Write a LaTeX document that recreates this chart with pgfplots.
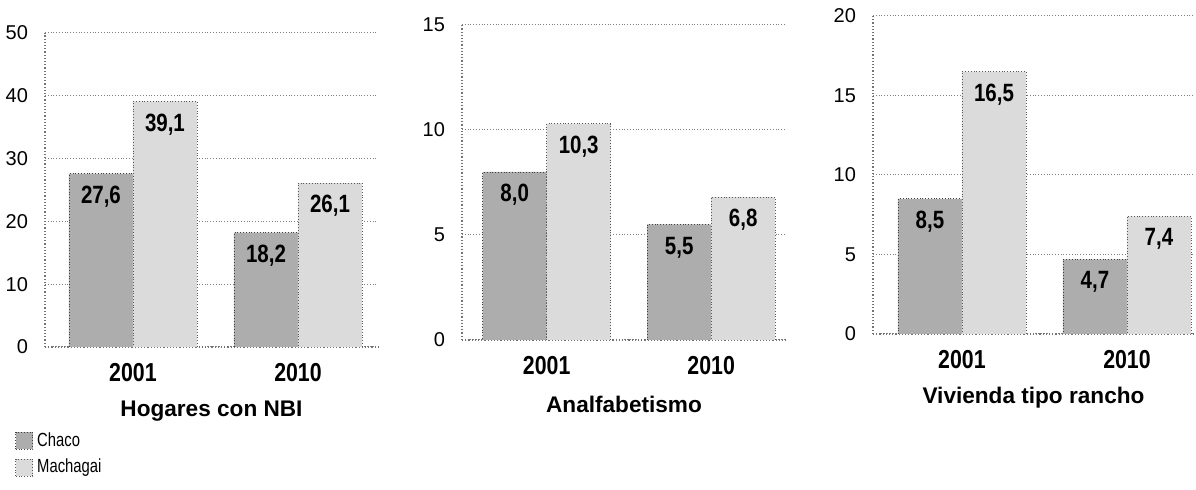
\documentclass[border=0pt]{standalone}
\usepackage{fontspec}
\setmainfont{Liberation Sans}
\newfontfamily\cond[FakeStretch=0.82]{Liberation Sans}
\newfontfamily\narrow[FakeStretch=0.78]{Liberation Sans}
\usepackage{pgfplots}
\pgfplotsset{compat=1.18}
\definecolor{chaco}{gray}{0.68}
\definecolor{macha}{gray}{0.86}
\pgfplotsset{
 panel/.style={
  scale only axis, anchor=south west,
  ybar=0pt, bar width=32pt,
  ymin=0, axis lines*=left,
  axis line style={black!55, densely dotted, line width=0.6pt},
  ymajorgrids, grid style={black!50, densely dotted, line width=0.5pt},
  major tick length=0pt,
  xtick={0,1}, xticklabels={2001,2010},
  xticklabel style={anchor=center, yshift=-13pt, font=\cond\bfseries\fontsize{13}{13}\selectfont},
  yticklabel style={xshift=-5pt, font=\fontsize{10}{10}\selectfont},
  /pgf/number format/assume math mode=true,
  x label style={at={(axis description cs:0.5,0)}, anchor=center, yshift=-32pt, font=\bfseries\fontsize{11.3}{11.3}\selectfont},
  nodes near coords={\pgfmathprintnumber[fixed,fixed zerofill,precision=1,use comma,assume math mode=true]{\pgfplotspointmeta}},
  every node near coord/.append style={anchor=center, yshift=-11.5pt, font=\cond\bfseries\fontsize{12.5}{12.5}\selectfont, text=black, solid},
 },
 chaco/.style={fill=chaco, draw=black!75, densely dotted, legend image code/.code={\draw[##1] (0pt,-4.25pt) rectangle (8.5pt,4.25pt);}},
 macha/.style={fill=macha, draw=black!65, densely dotted, legend image code/.code={\draw[##1] (0pt,-4.25pt) rectangle (8.5pt,4.25pt);}},
}
\begin{document}
\begin{tikzpicture}[x=1pt,y=1pt]
\useasboundingbox (0,0) rectangle (598,245);
\begin{axis}[panel, at={(22.5pt,71.5pt)}, width=166.5pt, height=157pt,
  xmin=-0.533, xmax=1.485, ymax=50, ytick={0,10,20,30,40,50},
  xlabel={Hogares con NBI},
  legend style={at={(axis description cs:-0.09,-0.258)}, anchor=north west, draw=none, fill=none,
    font=\narrow\fontsize{9.5}{9.5}\selectfont, row sep=1pt, cells={anchor=west}, inner sep=0pt}]
\addplot[chaco] coordinates {(0,27.6) (1,18.2)};
\addplot[macha] coordinates {(0,39.1) (1,26.1)};
\legend{Chaco, Machagai}
\end{axis}
\begin{axis}[panel, at={(231pt,75pt)}, width=162pt, height=157.5pt,
  xmin=-0.515, xmax=1.455, ymax=15, ytick={0,5,10,15},
  xlabel={Analfabetismo}]
\addplot[chaco] coordinates {(0,8.0) (1,5.5)};
\addplot[macha] coordinates {(0,10.3) (1,6.8)};
\end{axis}
\begin{axis}[panel, at={(436.5pt,78pt)}, width=160.5pt, height=159pt,
  xmin=-0.539, xmax=1.406, ymax=20, ytick={0,5,10,15,20},
  xlabel={Vivienda tipo rancho}]
\addplot[chaco] coordinates {(0,8.5) (1,4.7)};
\addplot[macha] coordinates {(0,16.5) (1,7.4)};
\end{axis}
\end{tikzpicture}
\end{document}
